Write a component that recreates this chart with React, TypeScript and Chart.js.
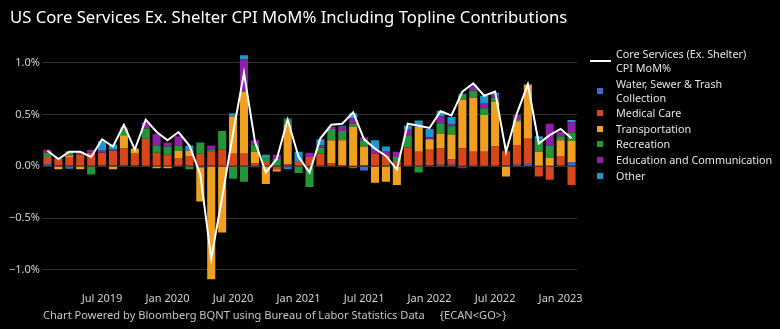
import React, { useEffect, useRef } from "react";
import { Chart, registerables } from "chart.js";

Chart.register(...registerables);

// ---- Data ----
const months: string[] = [
  "2019-01", "2019-02", "2019-03", "2019-04", "2019-05", "2019-06", "2019-07", "2019-08", "2019-09", "2019-10", "2019-11", "2019-12",
  "2020-01", "2020-02", "2020-03", "2020-04", "2020-05", "2020-06", "2020-07", "2020-08", "2020-09", "2020-10", "2020-11", "2020-12",
  "2021-01", "2021-02", "2021-03", "2021-04", "2021-05", "2021-06", "2021-07", "2021-08", "2021-09", "2021-10", "2021-11", "2021-12",
  "2022-01", "2022-02", "2022-03", "2022-04", "2022-05", "2022-06", "2022-07", "2022-08", "2022-09", "2022-10", "2022-11", "2022-12",
  "2023-01",
];

// month-end dated observations: the axis label sits at the start of the following month
const xTickLabels: Record<string, string> = {
  "2019-06": "Jul 2019",
  "2019-12": "Jan 2020",
  "2020-06": "Jul 2020",
  "2020-12": "Jan 2021",
  "2021-06": "Jul 2021",
  "2021-12": "Jan 2022",
  "2022-06": "Jul 2022",
  "2022-12": "Jan 2023",
};

const yTickValues: number[] = [-1.0, -0.5, 0.0, 0.5, 1.0];

const waterSewerTrash: number[] = [
  0.02, 0.01, -0.025, 0, 0, 0.01, 0.01, 0.01, 0.01, 0, 0, 0,
  0, 0, -0.01, 0, 0, 0, 0, -0.01, 0, 0, -0.03, 0,
  -0.01, 0, 0, 0, 0, -0.04, 0, 0, 0, 0, 0, 0.01,
  0.015, 0.015, 0, 0, 0, 0, 0.01, 0.015, 0.025, 0, 0, 0.01,
  0.035,
];
const medicalCare: number[] = [
  0.07, 0.06, 0.09, 0.11, 0.13, 0.12, 0.14, 0.16, 0.11, 0.265, 0.13, 0.11,
  0.08, 0.10, 0.12, 0.14, 0.16, 0.12, 0.12, 0.03, 0.04, -0.03, 0.02, 0.05,
  0.09, 0.12, 0.03, 0.01, -0.02, 0.01, 0.12, 0.10, 0.04, 0.18, 0.14, 0.15,
  0.155, 0.05, 0.17, 0.14, 0.14, 0.19, 0.13, 0.19, 0.24, -0.10, -0.13, 0.09,
  -0.18,
];
const transportation: number[] = [
  0, -0.03, 0.01, -0.03, 0, 0, -0.03, 0.13, 0.05, 0, -0.02, -0.02,
  0.07, 0.05, -0.33, -1.09, -0.64, 0.36, 0.60, 0.11, -0.17, -0.02, 0.38, 0,
  0, 0, 0.22, 0.24, 0.38, 0.18, -0.16, -0.15, -0.18, 0, 0.24, 0.10,
  0.145, 0.24, 0.47, 0.52, 0.355, 0.43, -0.10, 0.23, 0.52, 0.14, 0.08, 0.15,
  0.21,
];
const recreation: number[] = [
  0.04, 0, 0.045, 0, -0.08, 0, 0, 0.065, 0, 0.10, 0.07, 0.08,
  0.05, -0.03, 0.11, 0.02, 0.18, -0.12, -0.15, 0.07, 0.05, 0.07, 0.05, -0.065,
  -0.19, 0.06, 0.11, 0.09, 0.03, 0.06, 0, 0, 0.05, 0.12, -0.06, 0,
  0.10, 0.08, 0.05, 0.07, 0.065, 0.04, 0.01, 0.01, 0, 0.12, 0.12, 0.04,
  0.08,
];
const educationCommunication: number[] = [
  0.03, 0.02, 0, 0.03, 0.03, 0.02, 0.01, 0.01, 0, 0.06, 0.11, 0.04,
  0.09, 0, 0, 0.04, 0, 0, 0.31, 0.04, 0, 0.04, 0, 0,
  0.04, 0.02, 0.02, 0.04, 0.05, 0.03, 0.04, 0.04, 0.05, 0.06, 0.01, 0.02,
  0.065, 0.02, -0.02, 0.04, 0.05, 0.03, 0, 0.05, 0.01, 0, 0.21, 0.04,
  0.10,
];
const other: number[] = [
  0, 0, 0, 0, 0, 0.09, 0.05, 0, 0, 0, 0, 0,
  0, 0.05, 0, 0, 0, 0.03, 0.04, 0, 0.02, 0, 0.01, 0.09,
  0, 0.06, 0, 0.01, 0.05, 0, 0.09, 0.05, 0, 0.03, 0.05, 0.08,
  0.055, 0.07, 0.01, 0.01, 0.07, 0.02, 0, 0, 0, 0.03, 0, 0,
  0.02,
];
const coreServicesExShelterMoM: number[] = [
  0.15, 0.07, 0.14, 0.14, 0.09, 0.26, 0.19, 0.40, 0.16, 0.45, 0.33, 0.25,
  0.33, 0.20, -0.08, -0.89, -0.30, 0.32, 0.90, 0.24, -0.06, 0.07, 0.45, 0.09,
  -0.06, 0.27, 0.40, 0.41, 0.52, 0.26, 0.17, 0.10, -0.03, 0.41, 0.39, 0.37,
  0.53, 0.49, 0.72, 0.80, 0.68, 0.72, 0.14, 0.51, 0.79, 0.22, 0.30, 0.36,
  0.27,
];

const lineSeriesName: string[] = ["Core Services (Ex. Shelter)", "CPI MoM%"];
const barSeriesNames: string[][] = [
  ["Water, Sewer & Trash", "Collection"],
  ["Medical Care"],
  ["Transportation"],
  ["Recreation"],
  ["Education and Communication"],
  ["Other"],
];
const barSeriesValues: number[][] = [
  waterSewerTrash,
  medicalCare,
  transportation,
  recreation,
  educationCommunication,
  other,
];

const titleText = "US Core Services Ex. Shelter CPI MoM% Including Topline Contributions";
const footerText = "Chart Powered by Bloomberg BQNT using Bureau of Labor Statistics Data";
const footerCode = "{ECAN<GO>}";

// ---- Styles ----
const barColors = ["#3a6bd0", "#d8461c", "#f0a021", "#23963a", "#8e1fa6", "#1e98cc"];
const FONT = "'Noto Sans', 'DejaVu Sans', sans-serif";

function fmtPct(v: number): string {
  const r = Math.round(v * 10) / 10;
  const s = Math.abs(r).toFixed(1) + "%";
  return r < 0 ? "\u2212" + s : s;
}

export default function App() {
  const canvasRef = useRef<HTMLCanvasElement | null>(null);

  useEffect(() => {
    document.body.style.margin = "0";
    document.body.style.background = "#000";
    const canvas = canvasRef.current;
    if (!canvas) return;

    const datasets: any[] = [
      {
        type: "line",
        label: lineSeriesName.join(" "),
        data: coreServicesExShelterMoM,
        borderColor: "#ffffff",
        backgroundColor: "#ffffff",
        borderWidth: 2,
        pointRadius: 0,
        tension: 0,
        stack: "line",
        order: 0,
      },
      ...barSeriesValues.map((vals, i) => ({
        type: "bar",
        label: barSeriesNames[i].join(" "),
        data: vals,
        backgroundColor: barColors[i],
        borderWidth: 0,
        stack: "bars",
        order: 1,
        barPercentage: 0.74,
        categoryPercentage: 1,
      })),
    ];

    const chart = new Chart(canvas, {
      type: "bar",
      data: { labels: months, datasets },
      options: {
        responsive: false,
        animation: false,
        devicePixelRatio: 1,
        layout: { padding: { top: 47, right: 203, left: 0, bottom: 0 } },
        plugins: {
          legend: { display: false },
          tooltip: { enabled: false },
          title: { display: false },
        },
        scales: {
          x: {
            stacked: true,
            grid: { display: false, drawTicks: false },
            border: { display: false },
            ticks: {
              autoSkip: false,
              maxRotation: 0,
              minRotation: 0,
              padding: 7,
              color: "#d0d0d0",
              font: { family: FONT, size: 11 },
              callback: (_v: any, i: number) => xTickLabels[months[i]] ?? "",
            },
            afterFit: (s: any) => {
              s.height = 43.5;
            },
          },
          y: {
            stacked: true,
            min: -1.15,
            max: 1.15,
            grid: { color: "#2f2f2f", lineWidth: 1, drawTicks: false },
            border: { display: false },
            ticks: {
              stepSize: 0.5,
              includeBounds: false,
              padding: 2,
              color: "#d0d0d0",
              font: { family: FONT, size: 11 },
              callback: (v: any) => {
                const n = Number(v);
                return yTickValues.some((t) => Math.abs(t - n) < 1e-6) ? fmtPct(n) : "";
              },
            },
            afterFit: (s: any) => {
              s.width = 42;
            },
          },
        },
      } as any,
    });

    return () => chart.destroy();
  }, []);

  const legendEntries = [
    { lines: lineSeriesName, kind: "line", color: "#ffffff" },
    ...barSeriesNames.map((lines, i) => ({ lines, kind: "box", color: barColors[i] })),
  ];

  return (
    <div style={{ position: "relative", width: 780, height: 329, background: "#000", overflow: "hidden" }}>
      <canvas ref={canvasRef} width={780} height={329} style={{ position: "absolute", left: 0, top: 0, display: "block" }} />
      <div
        style={{
          position: "absolute",
          left: 10,
          top: 5,
          fontFamily: FONT,
          fontSize: 16.7,
          lineHeight: "24px",
          color: "#ffffff",
          whiteSpace: "nowrap",
        }}
      >
        {titleText}
      </div>
      <div
        style={{
          position: "absolute",
          left: 590,
          top: 47,
          fontFamily: FONT,
          fontSize: 10.8,
          lineHeight: "14px",
          color: "#e4e4e4",
          whiteSpace: "nowrap",
        }}
      >
        {legendEntries.map((e, i) => (
          <div key={i} style={{ display: "flex", alignItems: "center", marginBottom: 1.6 }}>
            <div style={{ width: 26, height: 6, position: "relative", flex: "0 0 26px" }}>
              {e.kind === "line" ? (
                <div style={{ position: "absolute", left: 0, top: 2, width: 21, height: 2, background: e.color }} />
              ) : (
                <div style={{ position: "absolute", left: 7, top: 0, width: 6, height: 6, background: e.color }} />
              )}
            </div>
            <div>
              {e.lines.map((l, j) => (
                <div key={j}>{l}</div>
              ))}
            </div>
          </div>
        ))}
      </div>
      <div
        style={{
          position: "absolute",
          left: 43,
          top: 307,
          fontFamily: FONT,
          fontSize: 11.1,
          lineHeight: "16px",
          color: "#c4c4c4",
          whiteSpace: "nowrap",
        }}
      >
        {footerText}
        <span style={{ marginLeft: 15 }}>{footerCode}</span>
      </div>
    </div>
  );
}
